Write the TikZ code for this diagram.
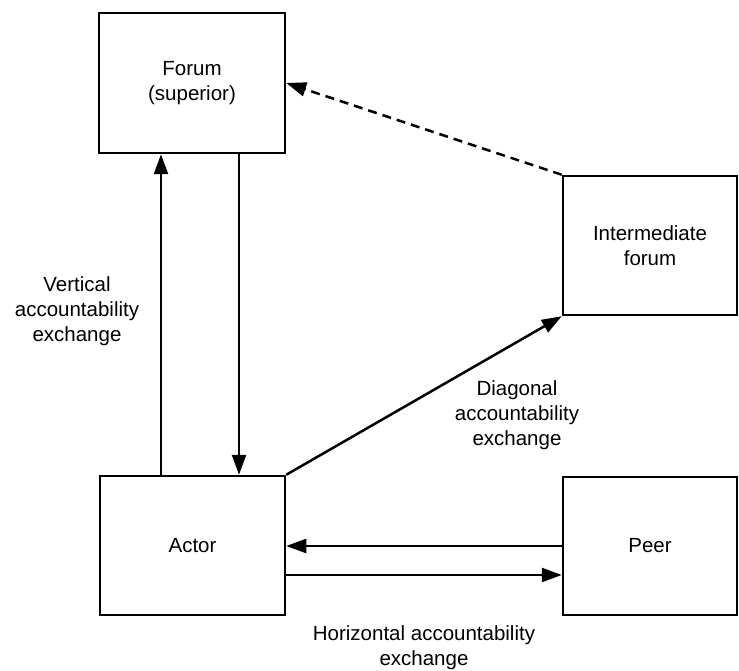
\documentclass[tikz,border=0pt]{standalone}
\usepackage{fontspec}
\setmainfont{Liberation Sans}
\usetikzlibrary{arrows.meta}

\begin{document}
\begin{tikzpicture}[x=1pt, y=-1pt,
  box/.style={draw, line width=2.5pt, rectangle, inner sep=0pt, align=center},
  lbl/.style={inner sep=0pt, align=center},
  arr/.style={line width=2.5pt, -{Triangle[length=20pt,width=14pt]}}]

  \useasboundingbox (0,0) rectangle (739,671); %% page size

  \fontsize{20.5}{25}\selectfont

  \node[box, minimum width=186pt, minimum height=140pt] (forum) at (192,83)
  {Forum\\(superior)};
  \node[box, minimum width=174pt, minimum height=139pt] (inter) at (650,245.5)
  {Intermediate\\forum};
  \node[box, minimum width=185pt, minimum height=139pt] (actor) at (192.5,545.5)
  {Actor};
  \node[box, minimum width=174pt, minimum height=138pt] (peer) at (650,546)
  {Peer};

  \draw[arr] ([xshift=-31.5pt]actor.north) -- ([xshift=-31.5pt]actor.north |- forum.south);
  \draw[arr] ([xshift=47pt]forum.south) -- ([xshift=47pt]forum.south |- actor.north);
  \draw[arr, dashed, dash pattern=on 9pt off 6pt] (inter.north west) -- (forum.east);
  \draw[arr] (actor.north east) -- (inter.south west);
  \draw[arr] (peer.west) -- (peer.west -| actor.east);
  \draw[arr] ([yshift=-29.5pt]actor.east) -- ([yshift=-29.5pt]actor.east -| peer.west);

  \node[lbl] (vert) at (77,311) {Vertical\\accountability\\exchange};
  \node[lbl] (diag) at (517,415) {Diagonal\\accountability\\exchange};
  \node[lbl] (horiz) at (424,647.5) {Horizontal accountability\\exchange};

\end{tikzpicture}
\end{document}
